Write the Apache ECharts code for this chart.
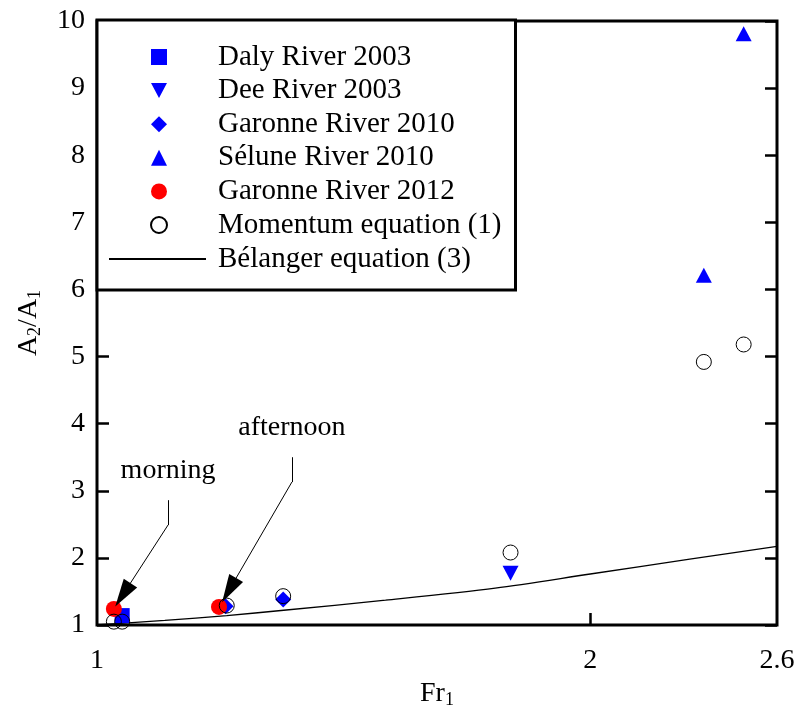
<!DOCTYPE html>
<html>
<head>
<meta charset="utf-8">
<script src="https://cdn.jsdelivr.net/npm/echarts@6/dist/echarts.min.js"></script>
<style>
  html, body { margin: 0; padding: 0; background: #fff; }
  #chart { width: 798px; height: 708px; }
</style>
</head>
<body>
<div id="chart"></div>
<script>
// Fr1 / A2/A1
var dalyFr = [1.036];
var dalyA = [1.14];
var deeFr = [1.788];
var deeA = [1.77];
var garonne10Fr = [1.198, 1.299];
var garonne10A = [1.28, 1.38];
var seluneFr = [2.346, 2.481];
var seluneA = [6.21, 9.81];
var garonne12Fr = [1.024, 1.187];
var garonne12A = [1.24, 1.27];
var momentumFr = [1.024, 1.036, 1.2, 1.299, 1.788, 2.346, 2.481];
var momentumA = [1.05, 1.05, 1.29, 1.43, 2.08, 4.92, 5.18];
var belangerFr = [1.0, 1.1, 1.2, 1.3, 1.5, 1.75, 2.0, 2.3, 2.6];
var belangerA = [1.0, 1.07, 1.14, 1.22, 1.37, 1.55, 1.76, 1.98, 2.17];

// tick labels
var xLabels = [1, 2, 2.6];
var xTicks = [2];

// annotation leaders (Fr, A): top of stem, knee, arrow head
var morningLeader = [[1.105, 2.86], [1.105, 2.49], [1.037, 1.45]];
var afternoonLeader = [[1.315, 3.50], [1.315, 3.13], [1.204, 1.52]];

var FONT = 'Liberation Serif';
var BLUE = '#0000ff';
var RED = '#ff0000';
var DOWN_TRI = 'path://M0,0L16,0L8,15Z';

function pairs(xs, ys) {
  return xs.map(function (x, i) { return [x, ys[i]]; });
}

function leader(pts, text) {
  return [
    [
      { coord: pts[0], symbol: 'none', label: { show: true, position: 'start', formatter: text, distance: 16 } },
      { coord: pts[1], symbol: 'none' }
    ],
    [
      { coord: pts[1], symbol: 'none', label: { show: false } },
      { coord: pts[2], symbol: 'triangle', symbolSize: [16, 28] }
    ]
  ];
}

var myChart = echarts.init(document.getElementById('chart'));

var option = {
  animation: false,
  textStyle: { fontFamily: FONT },
  grid: {
    left: 97, right: 21, top: 21, bottom: 83,
    outerBoundsMode: 'none',
    show: true, borderColor: '#000', borderWidth: 3, backgroundColor: 'transparent'
  },
  legend: [
    {
      // symbol entries, the box also holds the line entry below
      orient: 'vertical',
      left: 97, top: 20,
      padding: [22, 14, 50, 53],
      borderColor: '#000', borderWidth: 3,
      backgroundColor: '#fff',
      itemWidth: 16, itemHeight: 16, itemGap: 3.6,
      selectedMode: false,
      textStyle: { fontFamily: FONT, fontSize: 29, color: '#000', lineHeight: 30, padding: [0, 0, 0, 46] },
      data: [
        'Daly River 2003',
        { name: 'Dee River 2003', icon: DOWN_TRI },
        'Garonne River 2010', 'Sélune River 2010',
        'Garonne River 2012', 'Momentum equation (1)'
      ]
    },
    {
      orient: 'vertical',
      left: 108, top: 244,
      padding: 0,
      itemWidth: 97, itemHeight: 16,
      selectedMode: false,
      z: 5,
      textStyle: { fontFamily: FONT, fontSize: 29, color: '#000', lineHeight: 30, padding: [0, 0, 0, 7] },
      data: [{ name: 'Bélanger equation (3)', itemStyle: { opacity: 0 } }]
    }
  ],
  xAxis: {
    type: 'log', logBase: 10, min: 1, max: 2.6,
    name: '{a|Fr}{s|1}', nameLocation: 'middle', nameGap: 53,
    nameTextStyle: {
      rich: {
        a: { fontFamily: FONT, fontSize: 28, color: '#000', lineHeight: 30 },
        s: { fontFamily: FONT, fontSize: 18, color: '#000', lineHeight: 10, verticalAlign: 'bottom' }
      }
    },
    axisLine: { show: false },
    splitLine: { show: false },
    minorTick: { show: false },
    axisTick: { inside: true, length: 12, lineStyle: { color: '#000', width: 2.5 }, customValues: xTicks },
    axisLabel: { customValues: xLabels, margin: 22, fontFamily: FONT, fontSize: 28, color: '#000' }
  },
  yAxis: [
    {
      type: 'value', min: 1, max: 10, interval: 1,
      name: '{a|A}{s|2}{a|/A}{s|1}', nameLocation: 'middle', nameGap: 53,
      nameTextStyle: {
        rich: {
          a: { fontFamily: FONT, fontSize: 28, color: '#000', lineHeight: 30 },
          s: { fontFamily: FONT, fontSize: 18, color: '#000', lineHeight: 10, verticalAlign: 'bottom' }
        }
      },
      axisLine: { show: false },
      splitLine: { show: false },
      axisTick: { inside: true, length: 12, lineStyle: { color: '#000', width: 2.5 } },
      axisLabel: { margin: 12, fontFamily: FONT, fontSize: 28, color: '#000', showMinLabel: true, showMaxLabel: true }
    },
    {
      type: 'value', min: 1, max: 10, interval: 1, position: 'right',
      axisLine: { show: false },
      splitLine: { show: false },
      axisTick: { inside: true, length: 12, lineStyle: { color: '#000', width: 2.5 } },
      axisLabel: { show: false }
    }
  ],
  series: [
    {
      name: 'Bélanger equation (3)', type: 'line', data: pairs(belangerFr, belangerA),
      symbol: 'none', smooth: 0.3, lineStyle: { color: '#000', width: 1.3 }, itemStyle: { color: '#000' }, z: 1
    },
    {
      name: 'Daly River 2003', type: 'scatter', data: pairs(dalyFr, dalyA),
      symbol: 'rect', symbolSize: 15, itemStyle: { color: BLUE, opacity: 1 }
    },
    {
      name: 'Dee River 2003', type: 'scatter', data: pairs(deeFr, deeA),
      symbol: DOWN_TRI, symbolSize: [16, 15], itemStyle: { color: BLUE, opacity: 1 }
    },
    {
      name: 'Garonne River 2010', type: 'scatter', data: pairs(garonne10Fr, garonne10A),
      symbol: 'diamond', symbolSize: 16, itemStyle: { color: BLUE, opacity: 1 }
    },
    {
      name: 'Sélune River 2010', type: 'scatter', data: pairs(seluneFr, seluneA),
      symbol: 'triangle', symbolSize: [16, 15], itemStyle: { color: BLUE, opacity: 1 }
    },
    {
      name: 'Garonne River 2012', type: 'scatter', data: pairs(garonne12Fr, garonne12A),
      symbol: 'circle', symbolSize: 16, itemStyle: { color: RED, opacity: 1 },
      markLine: {
        silent: true,
        symbol: ['none', 'none'],
        lineStyle: { color: '#000', width: 1, type: 'solid' },
        itemStyle: { color: '#000' },
        label: { fontFamily: FONT, fontSize: 28, color: '#000' },
        data: leader(morningLeader, 'morning').concat(leader(afternoonLeader, 'afternoon'))
      }
    },
    {
      name: 'Momentum equation (1)', type: 'scatter', data: pairs(momentumFr, momentumA),
      symbol: 'circle', symbolSize: 15,
      itemStyle: { color: 'rgba(255,255,255,0)', borderColor: '#000', borderWidth: 1, opacity: 1 }
    }
  ]
};

myChart.setOption(option);
</script>
</body>
</html>
